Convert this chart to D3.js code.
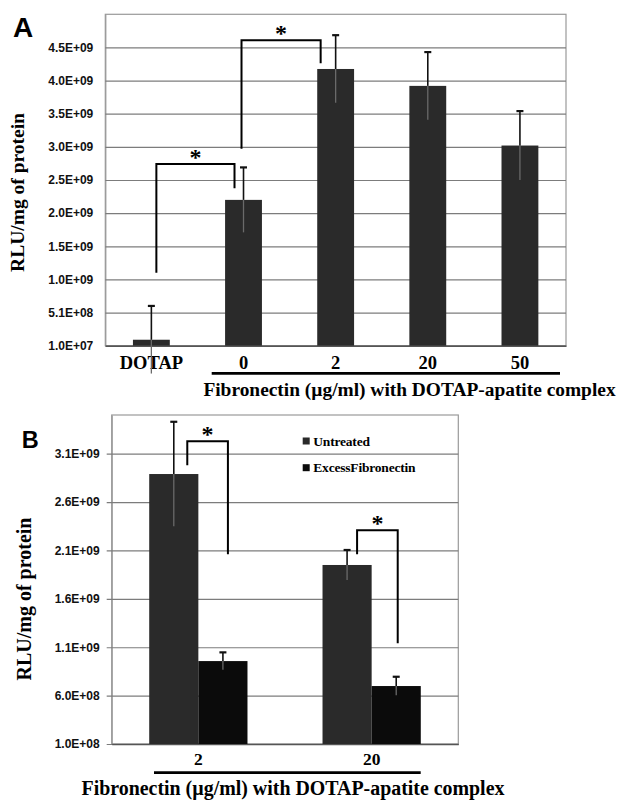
<!DOCTYPE html>
<html>
<head>
<meta charset="utf-8">
<script src="https://cdn.jsdelivr.net/npm/d3@7"></script>
<style>
  body { margin: 0; background: #fff; }
  svg { display: block; }
  .serif { font-family: "Liberation Serif", "Times New Roman", serif; font-weight: bold; }
  .sans { font-family: "Liberation Sans", Arial, sans-serif; font-weight: bold; }
</style>
</head>
<body>
<svg id="chart" width="617" height="800"></svg>
<script>
// panel A data
var catsA = ["DOTAP", "0", "2", "20", "50"];
var meanA = [1.0e8, 2.21e9, 4.185e9, 3.93e9, 3.03e9];
var errA = [5.1e8, 4.9e8, 5.1e8, 5.1e8, 5.2e8];
var tickValsA = [1e7, 5.1e8, 1.01e9, 1.51e9, 2.01e9, 2.51e9, 3.01e9, 3.51e9, 4.01e9, 4.51e9];
var tickLabelsA = ["1.0E+07", "5.1E+08", "1.0E+09", "1.5E+09", "2.0E+09", "2.5E+09", "3.0E+09", "3.5E+09", "4.0E+09", "4.5E+09"];
// significance brackets, A (values in RLU/mg)
var bracketsA = [
  {from: "DOTAP", to: "0", top: 2.75e9, fromEnd: 1.11e9, toEnd: 2.385e9},
  {from: "0", to: "2", top: 4.62e9, fromEnd: 2.98e9, toEnd: 4.27e9}
];

// panel B data
var groupsB = ["2", "20"];
var seriesB = ["Untreated", "ExcessFibronectin"];
var untreatedB = [2.89e9, 1.95e9];
var untreatedErrB = [5.4e8, 1.55e8];
var excessB = [9.57e8, 6.99e8];
var excessErrB = [9.0e7, 9.6e7];
var tickValsB = [1e8, 6e8, 1.1e9, 1.6e9, 2.1e9, 2.6e9, 3.1e9];
var tickLabelsB = ["1.0E+08", "6.0E+08", "1.1E+09", "1.6E+09", "2.1E+09", "2.6E+09", "3.1E+09"];
var bracketsB = [
  {group: "2", top: 3.23e9, fromEnd: 2.98e9, toEnd: 2.06e9},
  {group: "20", top: 2.31e9, fromEnd: 2.06e9, toEnd: 1.14e9}
];

var xTitle = "Fibronectin (\u00b5g/ml) with DOTAP-apatite complex";
var yTitle = "RLU/mg of protein";

var barGray = "#2a2a2a", barBlack = "#0b0b0b";

var svg = d3.select("#chart");

// grid + border + axes for one panel
function frame(g, x, y, box, tickVals, tickLabels, tickOut, xPad, xFont) {
  g.append("rect")
    .attr("x", box.left).attr("y", box.top)
    .attr("width", box.right - box.left).attr("height", box.bottom - box.top)
    .attr("fill", "none").attr("stroke", "#9a9a9a").attr("stroke-width", 1.2);

  var ya = g.append("g")
    .attr("transform", "translate(" + box.left + ",0)")
    .call(d3.axisLeft(y)
      .tickValues(tickVals)
      .tickFormat(function(d, i) { return tickLabels[i]; })
      .tickSizeInner(-(box.right - box.left))
      .tickSizeOuter(0)
      .tickPadding(12));
  ya.select(".domain").attr("stroke", "#9a9a9a").attr("stroke-width", 1.2);
  ya.selectAll(".tick line").attr("stroke", "#7c7c7c").attr("stroke-width", 1.2).attr("x1", -tickOut);
  ya.selectAll(".tick text").attr("class", "sans").style("font-size", "12px").attr("fill", "#111");

  var xa = g.append("g")
    .attr("transform", "translate(0," + box.bottom + ")")
    .call(d3.axisBottom(x).tickSize(0).tickPadding(xPad));
  xa.select(".domain").attr("stroke", "#555").attr("stroke-width", 1.6);
  xa.selectAll(".tick text").attr("class", "serif")
    .style("font-size", xFont + "px").attr("fill", "#000");
}

function errorBar(g, cx, y, mean, err) {
  g.append("line").attr("x1", cx).attr("x2", cx)
    .attr("y1", y(mean)).attr("y2", y(mean - err))
    .attr("stroke", "#6a6a6a").attr("stroke-width", 1.3);
  g.append("line").attr("x1", cx).attr("x2", cx)
    .attr("y1", y(mean)).attr("y2", y(mean + err))
    .attr("stroke", "#111").attr("stroke-width", 1.6);
  g.append("line").attr("x1", cx - 3.5).attr("x2", cx + 3.5)
    .attr("y1", y(mean + err)).attr("y2", y(mean + err))
    .attr("stroke", "#111").attr("stroke-width", 2.2);
}

function bracket(g, x1, x2, y, b) {
  g.append("path")
    .attr("d", "M" + x1 + "," + y(b.fromEnd) + "V" + y(b.top) + "H" + x2 + "V" + y(b.toEnd))
    .attr("fill", "none").attr("stroke", "#000").attr("stroke-width", 2);
  g.append("text").attr("class", "serif")
    .attr("x", (x1 + x2) / 2).attr("y", y(b.top) + 1)
    .attr("text-anchor", "middle").style("font-size", "24px")
    .text("*");
}

function label(g, cls, x, y, size, txt, rotate) {
  var t = g.append("text").attr("class", cls).style("font-size", size + "px").text(txt);
  if (rotate) {
    t.attr("transform", "translate(" + x + "," + y + ") rotate(-90)").attr("text-anchor", "middle");
  } else {
    t.attr("x", x).attr("y", y);
  }
  return t;
}

// ---------- Panel A ----------
var A = {left: 105.3, right: 566, top: 14.3, bottom: 345.7};
var gA = svg.append("g");

var xA = d3.scaleBand().domain(catsA).range([A.left, A.right])
  .paddingInner(0.6).paddingOuter(0.3);
var yA = d3.scaleLinear().domain([1e7, 5.01e9]).range([A.bottom, A.top]);

frame(gA, xA, yA, A, tickValsA, tickLabelsA, 0, 10, 18.5);

gA.selectAll("rect.bar").data(catsA).enter().append("rect")
  .attr("class", "bar")
  .attr("x", function(d) { return xA(d); })
  .attr("width", xA.bandwidth())
  .attr("y", function(d, i) { return yA(meanA[i]); })
  .attr("height", function(d, i) { return yA(1e7) - yA(meanA[i]); })
  .attr("fill", barGray);

catsA.forEach(function(c, i) {
  errorBar(gA, xA(c) + xA.bandwidth() / 2, yA, meanA[i], errA[i]);
});

var bracketDxA = [[5, -9], [-2, -15]];
bracketsA.forEach(function(b, i) {
  var x1 = xA(b.from) + xA.bandwidth() / 2 + bracketDxA[i][0];
  var x2 = xA(b.to) + xA.bandwidth() / 2 + bracketDxA[i][1];
  bracket(gA, x1, x2, yA, b);
});

gA.append("line").attr("x1", 211.7).attr("x2", 560).attr("y1", 373.3).attr("y2", 373.3)
  .attr("stroke", "#000").attr("stroke-width", 2.8);
label(gA, "serif", 409.5, 396, 19.4, xTitle).attr("text-anchor", "middle");
label(gA, "serif", 24, 192.5, 19.5, yTitle, true);
label(gA, "sans", 13, 36.7, 28, "A");

// ---------- Panel B ----------
var B = {left: 111.7, right: 458.3, top: 415, bottom: 744};
var gB = svg.append("g");

var x0B = d3.scaleBand().domain(groupsB).range([B.left, B.right])
  .paddingInner(0.433).paddingOuter(0.2165);
var x1B = d3.scaleBand().domain(seriesB).range([0, x0B.bandwidth()]);
var yB = d3.scaleLinear().domain([1e8, 3.5e9]).range([B.bottom, B.top]);

frame(gB, x0B, yB, B, tickValsB, tickLabelsB, 5, 9, 17.5);

var valsB = [untreatedB, excessB];
var errsB = [untreatedErrB, excessErrB];
var colorsB = [barGray, barBlack];

groupsB.forEach(function(gname, gi) {
  seriesB.forEach(function(s, si) {
    gB.append("rect")
      .attr("x", x0B(gname) + x1B(s))
      .attr("width", x1B.bandwidth())
      .attr("y", yB(valsB[si][gi]))
      .attr("height", yB(1e8) - yB(valsB[si][gi]))
      .attr("fill", colorsB[si]);
  });
});
groupsB.forEach(function(gname, gi) {
  seriesB.forEach(function(s, si) {
    errorBar(gB, x0B(gname) + x1B(s) + x1B.bandwidth() / 2, yB, valsB[si][gi], errsB[si][gi]);
  });
});

var bracketDxB = [[13.5, 5], [10, 1.5]];
bracketsB.forEach(function(b, i) {
  var x1 = x0B(b.group) + x1B(seriesB[0]) + x1B.bandwidth() / 2 + bracketDxB[i][0];
  var x2 = x0B(b.group) + x1B(seriesB[1]) + x1B.bandwidth() / 2 + bracketDxB[i][1];
  bracket(gB, x1, x2, yB, b);
});

// legend
var legend = gB.selectAll("g.legend").data(seriesB).enter().append("g")
  .attr("class", "legend")
  .attr("transform", function(d, i) { return "translate(302.7," + (441 + i * 26.7) + ")"; });
legend.append("rect").attr("x", 0).attr("y", -3.5).attr("width", 7).attr("height", 7)
  .attr("fill", function(d, i) { return colorsB[i]; });
legend.append("text").attr("class", "serif").attr("x", 10.6).attr("y", 4.5)
  .style("font-size", "13.5px").style("letter-spacing", "-0.2px")
  .text(function(d) { return d; });

gB.append("line").attr("x1", 154).attr("x2", 420.7).attr("y1", 772.7).attr("y2", 772.7)
  .attr("stroke", "#000").attr("stroke-width", 2.8);
label(gB, "serif", 293, 795, 19.9, xTitle).attr("text-anchor", "middle");
label(gB, "serif", 31, 599, 20, yTitle, true);
label(gB, "sans", 21.7, 448.3, 23.5, "B");
</script>
</body>
</html>
